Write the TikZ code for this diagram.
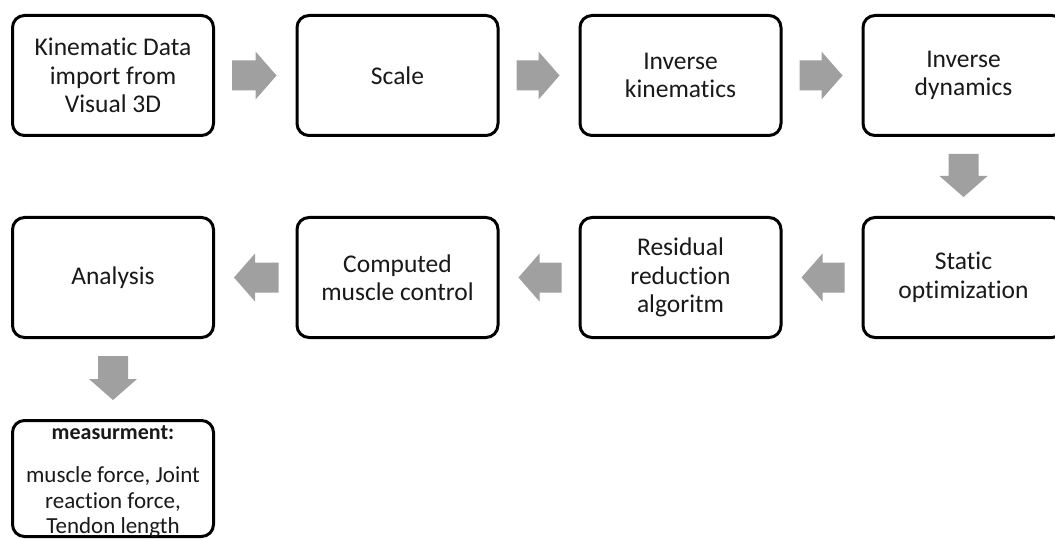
\documentclass[tikz,border=0pt]{standalone}
\usepackage{fontspec}
\setmainfont{Carlito}[Ligatures=NoCommon]
\usetikzlibrary{calc}
\definecolor{arrowgray}{RGB}{160,160,160}
\definecolor{txt}{RGB}{25,25,25}
\tikzset{
  box/.style={draw=black, line width=3pt, rounded corners=12pt, fill=white,
    minimum width=201pt, minimum height=120pt, align=center, inner sep=0pt,
    text=txt, font=\fontsize{25.5pt}{28.5pt}\selectfont},
  boxtext/.style={align=center, inner sep=0pt, text=txt,
    font=\fontsize{23pt}{25.5pt}\selectfont},
  blockarrow/.style={fill=arrowgray, draw=none, to path={
    ($(\tikztostart)!17pt!(\tikztotarget)$) coordinate (ba1)
    ($(\tikztotarget)!19pt!(\tikztostart)$) coordinate (ba2)
    ($(ba2)!21pt!(ba1)$) coordinate (ba3)
    ($(ba1)!15pt!90:(ba2)$) -- ($(ba3)!15pt!90:(ba2)$) -- ($(ba3)!24pt!90:(ba2)$)
    -- (ba2) -- ($(ba3)!24pt!-90:(ba2)$) -- ($(ba3)!15pt!-90:(ba2)$)
    -- ($(ba1)!15pt!-90:(ba2)$) -- cycle}}
}
\begin{document}
\begin{tikzpicture}[x=1pt,y=-1pt]
\clip (0,0) rectangle (1055,540);
\fill[white] (0,0) rectangle (1055,540);
% row 1
\node[box] (kin) at (113,75.5) {Kinematic Data\\import from\\Visual 3D};
\node[box] (scale) at (397.5,75.5) {Scale};
\node[box] (ik) at (680.5,75.5) {Inverse\\kinematics};
\node[box] (id) at (963.5,75.5) {Inverse\\dynamics};
% row 2
\node[box] (ana) at (113,277.5) {Analysis};
\node[box] (cmc) at (397.5,277.5) {Computed\\muscle control};
\node[box] (rra) at (680.5,277.5) {Residual\\reduction\\algoritm};
\node[box] (so) at (963.5,277.5) {Static\\optimization};
% row 3
\node[box, minimum height=116pt] (meas) at (113,478.5) {};
\node[boxtext, anchor=north] (meastext) at ([yshift=-6.5pt]meas.north)
  {{\fontsize{22pt}{25.5pt}\selectfont\bfseries measurment:}\\[17.5pt]muscle force, Joint\\reaction force,\\Tendon length};
% arrows
\path[blockarrow] (kin.east) to (scale.west);
\path[blockarrow] (scale.east) to (ik.west);
\path[blockarrow] (ik.east) to (id.west);
\path[blockarrow] (id.south) to (so.north);
\path[blockarrow] (so.west) to (rra.east);
\path[blockarrow] (rra.west) to (cmc.east);
\path[blockarrow] (cmc.west) to (ana.east);
\path[blockarrow] (ana.south) to (meas.north);
\end{tikzpicture}
\end{document}
